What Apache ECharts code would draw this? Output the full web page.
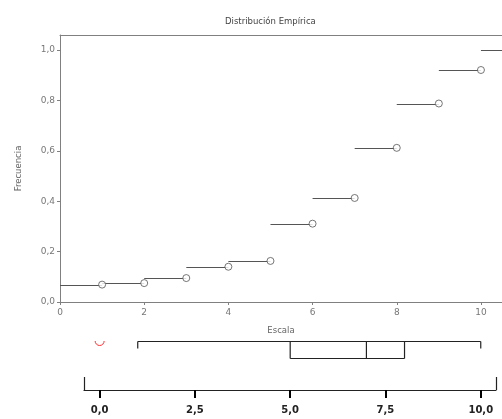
<!DOCTYPE html>
<html><head><meta charset="utf-8">
<script src="https://cdn.jsdelivr.net/npm/echarts@6/dist/echarts.min.js"></script>
<style>html,body{margin:0;padding:0;background:#fff}#c{width:502px;height:419px}</style>
</head><body><div id="c"></div>
<script>
// ---- data ----
const scores = [1, 2, 3, 4, 5, 6, 7, 8, 9, 10];
const cumFreq = [0.069, 0.075, 0.095, 0.14, 0.163, 0.311, 0.413, 0.612, 0.788, 0.921];
const stepStarts = [0, 1, 2, 3, 4, 5, 6, 7, 8, 9, 10];
const stepEnds = [1, 2, 3, 4, 5, 6, 7, 8, 9, 10, 11];
const stepLevels = [0.069, 0.075, 0.095, 0.14, 0.163, 0.311, 0.413, 0.612, 0.788, 0.921, 1.0];
const xTicks = [0, 2, 4, 6, 8, 10];
const yTicks = [0, 0.2, 0.4, 0.6, 0.8, 1.0];
const boxStats = [1, 5, 7, 8, 10]; // whisker low, Q1, median, Q3, whisker high
const outliers = [0];
const boxTicks = [0, 2.5, 5, 7.5, 10];

const comma = v => Number(v).toFixed(1).replace('.', ',');
const FONT = 'DejaVu Sans';
const AX = '#808080';

const chart = echarts.init(document.getElementById('c'), null, {renderer: 'canvas'});
const crisp = v => Math.round(v) + 0.5;

chart.setOption({
  animation: false,
  backgroundColor: '#fff',
  title: {
    text: 'Distribución Empírica', left: 220, top: 12,
    textStyle: {fontFamily: FONT, fontSize: 8.5, fontWeight: 'normal', color: '#444'}
  },
  grid: [
    {left: 60, top: 35, right: 0, bottom: 117},
    {left: 84, top: 341, right: 6, height: 49}
  ],
  xAxis: [
    {
      type: 'value', gridIndex: 0, min: 0, max: 10.5, position: 'bottom',
      name: 'Escala', nameLocation: 'middle', nameGap: 24,
      nameTextStyle: {fontFamily: FONT, fontSize: 8.5, color: '#666'},
      splitLine: {show: false},
      axisLine: {show: true, lineStyle: {color: AX, width: 1}},
      axisTick: {show: true, length: 3, lineStyle: {color: AX}, customValues: xTicks},
      axisLabel: {fontFamily: FONT, fontSize: 9, color: '#777', margin: 6, customValues: xTicks,
        showMinLabel: true, showMaxLabel: true}
    },
    {
      type: 'value', gridIndex: 0, min: 0, max: 10.5, position: 'top',
      splitLine: {show: false}, axisTick: {show: false}, axisLabel: {show: false},
      axisLine: {show: true, lineStyle: {color: AX, width: 1}}
    },
    {
      type: 'value', gridIndex: 1, min: -0.41, max: 10.4, position: 'bottom',
      splitLine: {show: false},
      axisLine: {show: true, lineStyle: {color: '#222', width: 1.2}},
      axisTick: {show: true, length: 8, lineStyle: {color: '#000', width: 2}, customValues: boxTicks},
      axisLabel: {fontFamily: FONT, fontSize: 10, fontWeight: 'bold', color: '#222', margin: 15,
        customValues: boxTicks, formatter: comma}
    },
    {
      type: 'value', gridIndex: 1, min: -0.41, max: 10.4, position: 'bottom',
      splitLine: {show: false}, axisLine: {show: false}, axisLabel: {show: false},
      axisTick: {show: true, inside: true, length: 13, lineStyle: {color: '#222', width: 1.2},
        customValues: [-0.41, 10.4]}
    }
  ],
  yAxis: [
    {
      type: 'value', gridIndex: 0, min: 0, max: 1.06,
      name: 'Frecuencia', nameLocation: 'middle', nameGap: 37, nameRotate: 90,
      nameTextStyle: {fontFamily: FONT, fontSize: 8.5, color: '#666'},
      splitLine: {show: false},
      axisLine: {show: true, lineStyle: {color: AX, width: 1}},
      axisTick: {show: true, length: 3, lineStyle: {color: AX}, customValues: yTicks},
      axisLabel: {fontFamily: FONT, fontSize: 9, color: '#777', margin: 5, customValues: yTicks,
        formatter: comma}
    },
    {type: 'value', gridIndex: 1, min: 0, max: 1, show: false}
  ],
  series: [
    {
      type: 'custom', xAxisIndex: 0, yAxisIndex: 0, clip: true,
      data: stepStarts.map((s, i) => [s, stepEnds[i], stepLevels[i]]),
      renderItem: (params, api) => {
        const a = api.coord([api.value(0), api.value(2)]);
        const b = api.coord([api.value(1), api.value(2)]);
        const y = crisp(a[1]);
        return {type: 'line', shape: {x1: a[0], y1: y, x2: b[0], y2: y},
          style: {stroke: '#555', lineWidth: 1}};
      }
    },
    {
      type: 'scatter', xAxisIndex: 0, yAxisIndex: 0,
      data: scores.map((s, i) => [s, cumFreq[i]]),
      symbol: 'circle', symbolSize: 7,
      itemStyle: {color: '#fff', borderColor: '#555', borderWidth: 1},
      z: 5
    },
    {
      type: 'custom', xAxisIndex: 2, yAxisIndex: 1, clip: false,
      data: [boxStats],
      renderItem: (params, api) => {
        const lo = api.coord([api.value(0), 1]);
        const q1 = api.coord([api.value(1), 1]);
        const md = api.coord([api.value(2), 1]);
        const q3 = api.coord([api.value(3), 1]);
        const hi = api.coord([api.value(4), 1]);
        const yTop = crisp(lo[1]);
        const yBot = crisp(api.coord([0, 0.653])[1]);
        const yWh = crisp(api.coord([0, 0.857])[1]);
        const st = {stroke: '#222', lineWidth: 1.2};
        const L = (x1, y1, x2, y2) => ({type: 'line', shape: {x1, y1, x2, y2}, style: st});
        return {type: 'group', children: [
          L(lo[0], yTop, hi[0], yTop),
          L(lo[0], yTop, lo[0], yWh),
          L(hi[0], yTop, hi[0], yWh),
          L(q1[0], yTop, q1[0], yBot),
          L(q3[0], yTop, q3[0], yBot),
          L(q1[0], yBot, q3[0], yBot),
          L(md[0], yTop, md[0], yBot)
        ]};
      }
    },
    {
      type: 'custom', xAxisIndex: 2, yAxisIndex: 1, clip: false,
      data: outliers.map(v => [v]),
      renderItem: (params, api) => {
        const p = api.coord([api.value(0), 1]);
        return {type: 'arc', shape: {cx: p[0], cy: p[1], r: 4.5, startAngle: 0, endAngle: Math.PI, clockwise: true},
          style: {stroke: '#ff3030', lineWidth: 1, fill: null}};
      }
    }
  ]
});
</script>
</body></html>
